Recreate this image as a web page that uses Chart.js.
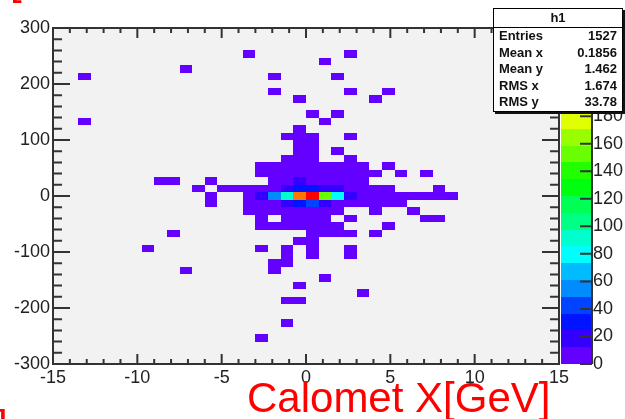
<!DOCTYPE html>
<html>
<head>
<meta charset="utf-8">
<script src="https://cdn.jsdelivr.net/npm/chart.js@4.4.0/dist/chart.umd.min.js"></script>
<style>
  html, body { margin: 0; padding: 0; background: #fff; }
  #wrap { position: relative; width: 625px; height: 419px; overflow: hidden; }
  canvas { position: absolute; left: 0; top: 0; }
  #stats {
    position: absolute; left: 493px; top: 8px; width: 128px; height: 102px;
    background: #fff; border: 1px solid #000; box-shadow: 2px 2px 0 #111;
    font: bold 13px "Liberation Sans", Arial, sans-serif; color: #111;
  }
  #stats .title { position: absolute; left: 0; right: 0; top: 0; height: 18px; line-height: 18px;
    text-align: center; border-bottom: 1px solid #000; }
  #stats .row { position: absolute; left: 5px; right: 5px; height: 16px; line-height: 16px; }
  #stats .row .v { position: absolute; right: 0; top: 0; }
  .red { position: absolute; color: #f00; font: 42px "Liberation Sans", Arial, sans-serif;
    line-height: 42px; white-space: nowrap; }
</style>
</head>
<body>
<div id="wrap">
  <canvas id="c" width="625" height="419"></canvas>
  <div id="stats"></div>
  <div class="red" style="left:10px; top:-41px;">[</div>
  <div class="red" style="left:-4px; top:405px;">]</div>
  <div class="red" style="left:247px; top:377px;">Calomet X[GeV]</div>
</div>
<script>
// histogram h1: 40 x-bins over [-15, 15], 45 y-bins over [-300, 300]
const xBinWidth = 0.75;
const yBinWidth = 600 / 45;
const zMax = 244;
const nLevels = 20;

const xTickValues = [-15, -10, -5, 0, 5, 10, 15];
const yTickValues = [-300, -200, -100, 0, 100, 200, 300];
const zTickValues = [0, 20, 40, 60, 80, 100, 120, 140, 160, 180, 200, 220, 240];

const statNames = ['Entries', 'Mean x', 'Mean y', 'RMS x', 'RMS y'];
const statValues = ['1527', '0.1856', '1.462', '1.674', '33.78'];

// filled bins: [x centre, y centre, entries]
const cells = [
  [-3.375, 253.33, 1], [2.625, 253.33, 1],
  [1.125, 240, 1],
  [-7.125, 226.67, 1],
  [-13.125, 213.33, 1], [-1.875, 213.33, 1], [1.875, 213.33, 1],
  [-1.875, 186.67, 1], [2.625, 186.67, 1], [4.875, 186.67, 1],
  [-0.375, 173.33, 1], [4.125, 173.33, 1],
  [0.375, 146.67, 1], [1.875, 146.67, 1],
  [-13.125, 133.33, 1], [1.125, 133.33, 1],
  [-0.375, 120, 2],
  [-1.125, 106.67, 1], [-0.375, 106.67, 2], [0.375, 106.67, 2], [2.625, 106.67, 1],
  [-0.375, 93.33, 3], [0.375, 93.33, 2],
  [-0.375, 80, 3], [0.375, 80, 3], [1.875, 80, 1],
  [-1.125, 66.67, 2], [-0.375, 66.67, 4], [0.375, 66.67, 3], [2.625, 66.67, 1],
  [-2.625, 53.33, 1], [-1.875, 53.33, 2], [-1.125, 53.33, 3], [-0.375, 53.33, 5], [0.375, 53.33, 4],
  [1.125, 53.33, 3], [1.875, 53.33, 2], [2.625, 53.33, 2], [3.375, 53.33, 1], [4.875, 53.33, 1],
  [-2.625, 40, 2], [-1.875, 40, 3], [-1.125, 40, 4], [-0.375, 40, 7], [0.375, 40, 6], [1.125, 40, 4],
  [1.875, 40, 3], [2.625, 40, 2], [3.375, 40, 2], [4.125, 40, 1], [5.625, 40, 1], [7.125, 40, 1],
  [-8.625, 26.67, 1], [-7.875, 26.67, 1], [-5.625, 26.67, 1], [-1.875, 26.67, 3], [-1.125, 26.67, 8],
  [-0.375, 26.67, 16], [0.375, 26.67, 11], [1.125, 26.67, 6], [1.875, 26.67, 3], [2.625, 26.67, 2], [3.375, 26.67, 1],
  [-6.375, 13.33, 1], [-4.875, 13.33, 1], [-4.125, 13.33, 2], [-3.375, 13.33, 3], [-2.625, 13.33, 6],
  [-1.875, 13.33, 10], [-1.125, 13.33, 18], [-0.375, 13.33, 30], [0.375, 13.33, 32], [1.125, 13.33, 17],
  [1.875, 13.33, 15], [2.625, 13.33, 8], [3.375, 13.33, 4], [4.125, 13.33, 2], [4.875, 13.33, 1], [7.875, 13.33, 1],
  [-5.625, 0, 1], [-3.375, 0, 4], [-2.625, 0, 20], [-1.875, 0, 56], [-1.125, 0, 92], [-0.375, 0, 214],
  [0.375, 0, 240], [1.125, 0, 152], [1.875, 0, 80], [2.625, 0, 18], [3.375, 0, 8], [4.125, 0, 5],
  [4.875, 0, 4], [5.625, 0, 3], [6.375, 0, 2], [7.125, 0, 2], [7.875, 0, 1], [8.625, 0, 1],
  [-5.625, -13.33, 1], [-3.375, -13.33, 3], [-2.625, -13.33, 7], [-1.875, -13.33, 11], [-1.125, -13.33, 16],
  [-0.375, -13.33, 28], [0.375, -13.33, 45], [1.125, -13.33, 16], [1.875, -13.33, 10], [2.625, -13.33, 6],
  [3.375, -13.33, 4], [4.125, -13.33, 2], [4.875, -13.33, 2], [5.625, -13.33, 1],
  [-3.375, -26.67, 1], [-2.625, -26.67, 3], [-1.875, -26.67, 4], [-1.125, -26.67, 6], [-0.375, -26.67, 8],
  [0.375, -26.67, 9], [1.125, -26.67, 5], [1.875, -26.67, 2], [4.125, -26.67, 1], [6.375, -26.67, 1],
  [-2.625, -40, 2], [-1.125, -40, 3], [-0.375, -40, 4], [0.375, -40, 5], [1.125, -40, 2], [2.625, -40, 1],
  [7.125, -40, 1], [7.875, -40, 1],
  [-2.625, -53.33, 1], [-1.875, -53.33, 2], [-1.125, -53.33, 3], [-0.375, -53.33, 3], [0.375, -53.33, 4],
  [1.125, -53.33, 2], [1.875, -53.33, 1], [4.875, -53.33, 1],
  [-7.875, -66.67, 1], [0.375, -66.67, 3], [1.125, -66.67, 2], [1.875, -66.67, 1], [2.625, -66.67, 1], [4.125, -66.67, 1],
  [-0.375, -80, 1], [0.375, -80, 2],
  [-9.375, -93.33, 1], [-2.625, -93.33, 1], [-1.125, -93.33, 1], [0.375, -93.33, 2], [2.625, -93.33, 1],
  [-1.125, -106.67, 1], [0.375, -106.67, 1], [2.625, -106.67, 1],
  [-1.875, -120, 1], [-1.125, -120, 1],
  [-7.125, -133.33, 1], [-1.875, -133.33, 1],
  [1.125, -146.67, 1],
  [-0.375, -160, 1],
  [3.375, -173.33, 1],
  [-1.125, -186.67, 1], [-0.375, -186.67, 1],
  [-1.125, -226.67, 1],
  [-2.625, -253.33, 1]
];

// ROOT "pretty" palette: 50 hues from violet to red, 20 contour levels
function zColor(z) {
  let level = Math.floor(z / zMax * nLevels);
  if (level >= nLevels) level = nLevels - 1;
  const idx = Math.floor((level + 0.99) * 50 / nLevels);
  const hue = 280 - (idx + 1) * 5.6;
  return `hsl(${hue}, 100%, 50%)`;
}

const labelFont = { family: '"Liberation Sans", Arial, sans-serif', size: 18 };
const axisColor = '#333';

function setTicks(values) {
  return scale => { scale.ticks = values.map(v => ({ value: v })); };
}

// fixed box sizes so the frame lands where ROOT put it
function fixBox(size) {
  return s => {
    if (s.isHorizontal()) s.height = size; else s.width = size;
    s.paddingTop = 0; s.paddingBottom = 0; s.paddingLeft = 0; s.paddingRight = 0;
  };
}

const th2Plugin = {
  id: 'th2',
  beforeDraw(chart) {
    const { ctx, chartArea: a } = chart;
    ctx.save();
    ctx.fillStyle = '#fff';
    ctx.fillRect(0, 0, chart.width, chart.height);
    ctx.fillStyle = '#f2f2f2';
    ctx.fillRect(a.left, a.top, a.right - a.left, a.bottom - a.top);
    ctx.restore();
  },
  beforeDatasetsDraw(chart) {
    const { ctx, chartArea: a } = chart;
    const xs = chart.scales.x, ys = chart.scales.y;
    ctx.save();
    ctx.beginPath();
    ctx.rect(a.left, a.top, a.right - a.left, a.bottom - a.top);
    ctx.clip();
    chart.data.datasets[0].data.forEach(p => {
      const x0 = Math.round(xs.getPixelForValue(p.x - xBinWidth / 2));
      const x1 = Math.round(xs.getPixelForValue(p.x + xBinWidth / 2));
      const y0 = Math.round(ys.getPixelForValue(p.y + yBinWidth / 2));
      const y1 = Math.round(ys.getPixelForValue(p.y - yBinWidth / 2));
      ctx.fillStyle = zColor(p.n);
      ctx.fillRect(x0, y0, x1 - x0, y1 - y0);
    });
    ctx.restore();
  },
  afterDatasetsDraw(chart) {
    const { ctx, chartArea: a } = chart;
    const xs = chart.scales.x, ys = chart.scales.y, zs = chart.scales.z;
    ctx.save();

    // colour palette
    const barL = a.right + 2, barR = a.right + 33;
    for (let k = 0; k < nLevels; k++) {
      const zLo = k * zMax / nLevels, zHi = (k + 1) * zMax / nLevels;
      const yLo = Math.round(zs.getPixelForValue(zLo));
      const yHi = Math.round(zs.getPixelForValue(zHi));
      ctx.fillStyle = zColor((zLo + zHi) / 2);
      ctx.fillRect(barL, yHi, barR - barL, yLo - yHi);
    }
    ctx.strokeStyle = axisColor;
    ctx.lineWidth = 2;
    ctx.beginPath();
    ctx.moveTo(barR, a.top);
    ctx.lineTo(barR, a.bottom);
    zTickValues.forEach(v => {
      const py = zs.getPixelForValue(v);
      ctx.moveTo(barR, py);
      ctx.lineTo(barR - 12, py);
    });
    ctx.stroke();

    // frame
    ctx.strokeRect(a.left, a.top, a.right - a.left, a.bottom - a.top);

    // inward tick marks on all four sides
    ctx.beginPath();
    for (let v = -15; v <= 15; v++) {
      const px = xs.getPixelForValue(v);
      const len = v % 5 === 0 ? 10 : 5;
      ctx.moveTo(px, a.bottom); ctx.lineTo(px, a.bottom - len);
      ctx.moveTo(px, a.top); ctx.lineTo(px, a.top + len);
    }
    for (let v = -300; v <= 300; v += 20) {
      const py = ys.getPixelForValue(v);
      const len = v % 100 === 0 ? 17 : 9;
      ctx.moveTo(a.left, py); ctx.lineTo(a.left + len, py);
      ctx.moveTo(a.right, py); ctx.lineTo(a.right - len, py);
    }
    ctx.stroke();
    ctx.restore();
  }
};

const hiddenGrid = { display: false, drawTicks: false };

new Chart(document.getElementById('c').getContext('2d'), {
  type: 'scatter',
  data: {
    datasets: [{
      label: 'h1',
      data: cells.map(([x, y, n]) => ({ x, y, n })),
      pointRadius: 0,
      pointHoverRadius: 0
    }]
  },
  options: {
    responsive: false,
    animation: false,
    devicePixelRatio: 1,
    events: [],
    layout: { padding: { top: 28, left: 0, right: 0, bottom: 0 } },
    plugins: { legend: { display: false }, tooltip: { enabled: false } },
    scales: {
      x: {
        type: 'linear', position: 'bottom', min: -15, max: 15,
        afterBuildTicks: setTicks(xTickValues),
        afterFit: fixBox(55),
        grid: hiddenGrid, border: { display: false },
        ticks: { autoSkip: false, maxRotation: 0, padding: 3, color: '#222', font: labelFont }
      },
      y: {
        type: 'linear', position: 'left', min: -300, max: 300,
        afterBuildTicks: setTicks(yTickValues),
        afterFit: fixBox(53),
        grid: hiddenGrid, border: { display: false },
        ticks: { autoSkip: false, padding: 3, color: '#222', font: labelFont }
      },
      z: {
        type: 'linear', position: 'right', min: 0, max: zMax,
        afterBuildTicks: setTicks(zTickValues),
        afterFit: fixBox(66),
        grid: hiddenGrid, border: { display: false },
        ticks: { autoSkip: false, padding: 34, color: '#222', font: labelFont }
      }
    }
  },
  plugins: [th2Plugin]
});

// statistics box
const stats = document.getElementById('stats');
stats.innerHTML = '<div class="title">h1</div>' + statNames.map((name, i) =>
  `<div class="row" style="top:${19 + i * 16.6}px"><span>${name}</span><span class="v">${statValues[i]}</span></div>`
).join('');
</script>
</body>
</html>
